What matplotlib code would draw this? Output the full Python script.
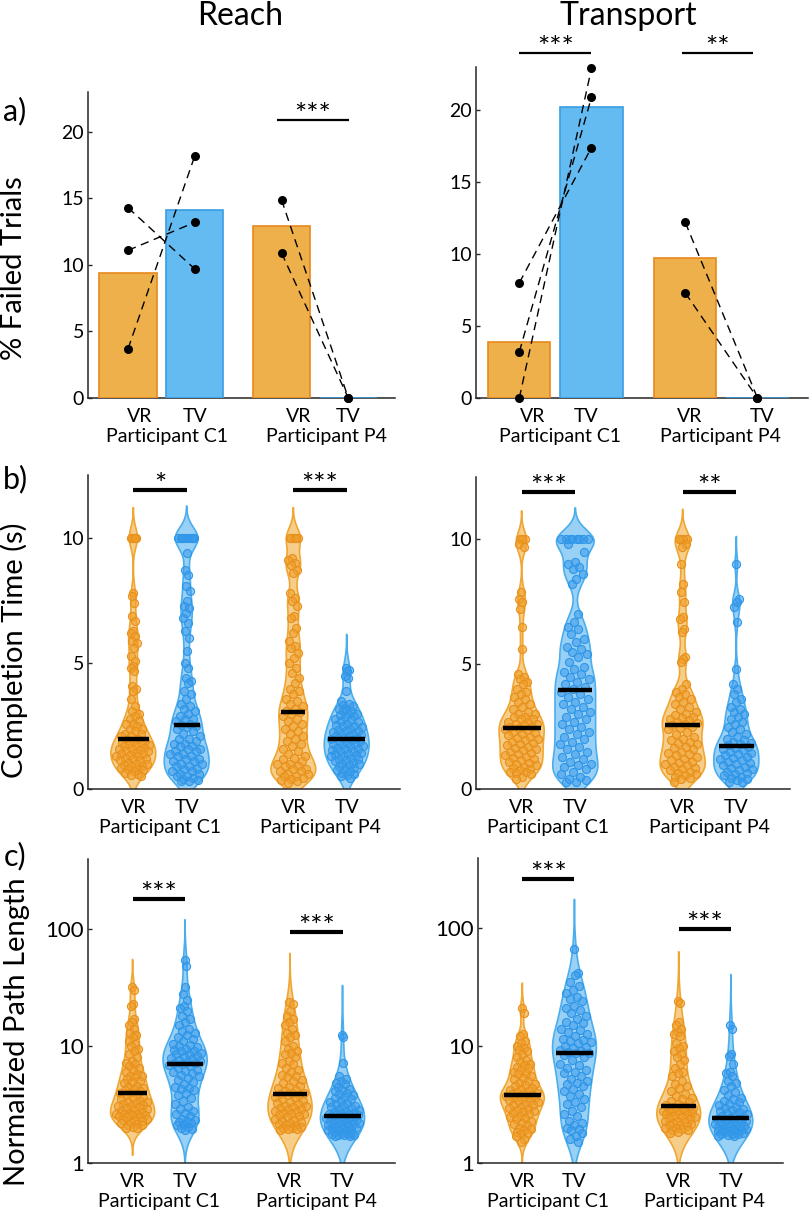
import numpy as np
import matplotlib
matplotlib.use("Agg")
import matplotlib.pyplot as plt

plt.rcParams['font.family'] = ['Lato', 'DejaVu Sans']

# ---------------- data ----------------
pos_bar = [1, 2, 3.3, 4.3]
pos_vio = [1, 2, 4, 5]
conds = ["VR", "TV", "VR", "TV"]
participants = ["Participant C1", "Participant P4"]

# a) % failed trials (bar = overall, dots = sessions, paired VR->TV)
reach_fail_bar = [9.4, 14.1, 12.9, 0.0]
reach_fail_c1_vr = [14.3, 11.1, 3.7]
reach_fail_c1_tv = [9.7, 13.2, 18.2]
reach_fail_p4_vr = [14.9, 10.9]
reach_fail_p4_tv = [0.0, 0.0]

transport_fail_bar = [3.9, 20.2, 9.7, 0.0]
transport_fail_c1_vr = [8.0, 3.2, 0.0]
transport_fail_c1_tv = [17.4, 20.9, 22.9]
transport_fail_p4_vr = [12.2, 7.3]
transport_fail_p4_tv = [0.0, 0.0]

# b) completion time (s)
reach_time_c1_vr = [10.0, 10.0, 10.0, 10.0, 10.0, 7.8, 7.7, 7.4, 6.9, 6.7, 6.3, 6.2, 6.1, 5.9, 5.8,
                    5.6, 5.3, 5.1, 4.9, 4.8, 4.7, 4.1, 4.0, 3.9, 3.6, 3.3, 3.1, 3.0, 2.9, 2.8, 2.7,
                    2.6, 2.6, 2.5, 2.4, 2.4, 2.3, 2.2, 2.2, 2.1, 2.1, 2.0, 1.95, 1.9, 1.9, 1.85, 1.8,
                    1.8, 1.75, 1.7, 1.7, 1.65, 1.6, 1.6, 1.55, 1.5, 1.5, 1.45, 1.4, 1.4, 1.35, 1.3,
                    1.3, 1.25, 1.2, 1.2, 1.15, 1.1, 1.05, 1.0, 1.0, 0.95, 0.9, 0.9, 0.85, 0.8, 0.8,
                    0.75, 0.7, 0.65, 0.6, 0.55, 0.5]
reach_time_c1_tv = [10.0, 10.0, 10.0, 10.0, 10.0, 10.0, 10.0, 10.0, 10.0, 10.0, 9.4, 8.7, 8.5, 8.1,
                    7.9, 7.5, 7.3, 7.2, 7.0, 6.8, 6.6, 6.3, 6.0, 5.5, 5.0, 4.8, 4.4, 4.3, 4.2, 3.9,
                    3.8, 3.6, 3.4, 3.3, 3.2, 3.1, 3.0, 2.9, 2.8, 2.8, 2.7, 2.6, 2.55, 2.5, 2.45, 2.4,
                    2.3, 2.2, 2.1, 2.0, 2.0, 1.9, 1.8, 1.8, 1.7, 1.7, 1.6, 1.6, 1.5, 1.5, 1.4, 1.4,
                    1.3, 1.3, 1.2, 1.2, 1.1, 1.1, 1.0, 1.0, 0.9, 0.9, 0.8, 0.8, 0.7, 0.7, 0.6, 0.6,
                    0.5, 0.5, 0.45, 0.4, 0.35, 0.3, 0.3]
reach_time_p4_vr = [10.0, 10.0, 10.0, 10.0, 10.0, 9.2, 9.1, 9.0, 8.9, 8.7, 8.6, 7.8, 7.6, 7.5, 7.3,
                    6.9, 6.8, 6.4, 6.2, 5.9, 5.7, 5.6, 5.4, 5.2, 5.0, 4.8, 4.6, 4.4, 4.2, 4.0, 3.9,
                    3.8, 3.6, 3.5, 3.4, 3.3, 3.2, 3.1, 3.05, 3.0, 2.9, 2.8, 2.7, 2.6, 2.5, 2.4, 2.3,
                    2.2, 2.1, 2.0, 1.9, 1.8, 1.7, 1.6, 1.5, 1.4, 1.3, 1.25, 1.2, 1.1, 1.0, 1.0, 0.9,
                    0.9, 0.8, 0.8, 0.7, 0.7, 0.6, 0.6, 0.5, 0.5, 0.45, 0.4, 0.35, 0.3, 0.25]
reach_time_p4_tv = [4.8, 4.75, 4.7, 4.5, 4.4, 3.9, 3.5, 3.4, 3.35, 3.3, 3.2, 3.2, 3.1, 3.1, 3.0, 3.0,
                    2.95, 2.9, 2.85, 2.8, 2.75, 2.7, 2.65, 2.6, 2.55, 2.5, 2.5, 2.45, 2.4, 2.35, 2.3,
                    2.3, 2.25, 2.2, 2.2, 2.15, 2.1, 2.1, 2.05, 2.05, 2.0, 1.95, 1.9, 1.9, 1.85, 1.8,
                    1.8, 1.75, 1.7, 1.7, 1.65, 1.6, 1.6, 1.55, 1.5, 1.5, 1.45, 1.4, 1.4, 1.35, 1.3,
                    1.3, 1.25, 1.2, 1.2, 1.15, 1.1, 1.05, 1.0, 1.0, 0.95, 0.9, 0.85, 0.8, 0.75, 0.7,
                    0.65, 0.6, 0.55, 0.5, 0.45]

transport_time_c1_vr = [10.0, 10.0, 10.0, 9.8, 9.7, 7.9, 7.6, 7.5, 7.2, 6.5, 5.6, 4.6, 4.5, 4.4, 4.3,
                        4.2, 4.0, 3.9, 3.8, 3.7, 3.6, 3.5, 3.4, 3.3, 3.2, 3.1, 3.0, 3.0, 2.9, 2.9, 2.8,
                        2.8, 2.7, 2.7, 2.6, 2.6, 2.55, 2.5, 2.5, 2.45, 2.4, 2.35, 2.3, 2.25, 2.2, 2.15,
                        2.1, 2.05, 2.0, 1.95, 1.9, 1.85, 1.8, 1.75, 1.7, 1.65, 1.6, 1.55, 1.5, 1.45,
                        1.4, 1.35, 1.3, 1.25, 1.2, 1.15, 1.1, 1.05, 1.0, 0.95, 0.9, 0.85, 0.8, 0.75,
                        0.7, 0.7, 0.65, 0.6, 0.5, 0.4]
transport_time_c1_tv = [10.0, 10.0, 10.0, 10.0, 10.0, 10.0, 10.0, 10.0, 9.8, 9.5, 9.1, 9.0, 8.9, 8.8,
                        8.6, 8.4, 8.2, 7.0, 6.7, 6.5, 6.4, 6.2, 6.0, 5.9, 5.7, 5.6, 5.5, 5.4, 5.3, 5.1,
                        4.9, 4.8, 4.7, 4.6, 4.5, 4.4, 4.3, 4.2, 4.1, 4.0, 3.9, 3.8, 3.7, 3.6, 3.5, 3.4,
                        3.3, 3.2, 3.1, 3.0, 2.9, 2.8, 2.7, 2.6, 2.5, 2.4, 2.3, 2.2, 2.1, 2.0, 1.9, 1.8,
                        1.7, 1.6, 1.5, 1.4, 1.3, 1.2, 1.1, 1.0, 0.95, 0.9, 0.8, 0.7, 0.6, 0.5, 0.4,
                        0.35, 0.3, 0.3]
transport_time_p4_vr = [10.0, 10.0, 10.0, 10.0, 9.8, 9.7, 9.0, 8.2, 7.9, 7.5, 6.9, 6.8, 6.4, 6.3, 5.3,
                        5.2, 5.1, 4.2, 4.0, 3.9, 3.8, 3.7, 3.6, 3.5, 3.4, 3.3, 3.2, 3.1, 3.0, 2.95,
                        2.9, 2.85, 2.8, 2.75, 2.7, 2.65, 2.6, 2.55, 2.5, 2.45, 2.4, 2.3, 2.2, 2.1, 2.0,
                        1.95, 1.9, 1.85, 1.8, 1.7, 1.65, 1.6, 1.5, 1.45, 1.4, 1.35, 1.3, 1.2, 1.15,
                        1.1, 1.05, 1.0, 0.95, 0.9, 0.85, 0.8, 0.75, 0.7, 0.65, 0.6, 0.55, 0.5, 0.45,
                        0.4, 0.3]
transport_time_p4_tv = [9.0, 7.6, 7.5, 7.3, 6.7, 4.8, 4.2, 4.0, 3.8, 3.6, 3.5, 3.3, 3.2, 3.1, 3.0, 2.9,
                        2.8, 2.7, 2.6, 2.5, 2.4, 2.3, 2.2, 2.1, 2.0, 1.95, 1.9, 1.85, 1.8, 1.75, 1.68,
                        1.65, 1.6, 1.55, 1.5, 1.45, 1.4, 1.35, 1.3, 1.25, 1.2, 1.15, 1.1, 1.05, 1.0,
                        0.95, 0.9, 0.85, 0.8, 0.75, 0.7, 0.65, 0.6, 0.55, 0.5, 0.45, 0.4, 0.35, 0.3, 0.3]

# c) normalized path length
reach_path_c1_vr = [32, 30, 23, 22, 17, 16, 15, 14, 13, 12.5, 12, 11, 10.5, 10, 9.5, 9, 8.5, 8, 7.5,
                    7.2, 7, 6.8, 6.5, 6.2, 6, 5.8, 5.6, 5.5, 5.4, 5.2, 5.0, 4.9, 4.8, 4.6, 4.5, 4.4,
                    4.3, 4.2, 4.1, 4.0, 3.96, 3.9, 3.8, 3.7, 3.6, 3.5, 3.4, 3.35, 3.3, 3.25, 3.2, 3.15,
                    3.1, 3.05, 3.0, 2.95, 2.9, 2.85, 2.8, 2.75, 2.7, 2.65, 2.65, 2.6, 2.55, 2.55, 2.5,
                    2.45, 2.45, 2.4, 2.35, 2.35, 2.3, 2.25, 2.2, 2.15, 2.1, 2.1, 2.05, 2.0, 2.0]
reach_path_c1_tv = [55, 48, 32, 28, 25, 22, 21, 20, 18, 17, 16, 15, 14, 13.5, 13, 12.5, 12, 11.5, 11,
                    10.5, 10.2, 10, 9.8, 9.5, 9.2, 9.0, 9.0, 8.8, 8.6, 8.5, 8.2, 8.0, 7.9, 7.8, 7.6,
                    7.4, 7.3, 7.2, 7.1, 7.0, 6.9, 6.7, 6.5, 6.3, 6.1, 6.0, 5.9, 5.7, 5.5, 5.3, 5.1,
                    4.9, 4.7, 4.5, 4.4, 4.3, 4.2, 4.0, 3.8, 3.6, 3.4, 3.2, 3.0, 2.9, 2.8, 2.7, 2.6,
                    2.5, 2.4, 2.35, 2.3, 2.25, 2.2, 2.15, 2.1, 2.05, 2.0, 1.95, 1.9]
reach_path_p4_vr = [24, 23, 20, 18, 17, 16, 15, 14, 13, 12.5, 12, 11, 10, 9.5, 9, 8.8, 8.5, 8, 7.5,
                    7.2, 7, 6.5, 6.2, 6, 5.7, 5.5, 5.4, 5.1, 5.0, 4.8, 4.6, 4.5, 4.4, 4.2, 4.1, 4.0,
                    3.95, 3.9, 3.85, 3.8, 3.7, 3.6, 3.5, 3.4, 3.3, 3.25, 3.2, 3.1, 3.05, 3.0, 2.95,
                    2.9, 2.85, 2.8, 2.75, 2.7, 2.65, 2.6, 2.55, 2.5, 2.45, 2.4, 2.35, 2.3, 2.25, 2.2,
                    2.15, 2.1, 2.1, 2.05, 2.0, 2.0, 1.95, 1.95, 1.9]
reach_path_p4_tv = [12.5, 12, 7.2, 5.5, 5.2, 5.0, 4.8, 4.7, 4.5, 4.3, 4.2, 4.1, 4.0, 3.9, 3.8, 3.7,
                    3.6, 3.5, 3.4, 3.3, 3.25, 3.2, 3.1, 3.05, 3.0, 2.95, 2.9, 2.85, 2.8, 2.75, 2.7,
                    2.7, 2.65, 2.6, 2.6, 2.58, 2.54, 2.5, 2.48, 2.45, 2.42, 2.4, 2.37, 2.35, 2.32,
                    2.3, 2.28, 2.25, 2.22, 2.2, 2.18, 2.15, 2.12, 2.1, 2.08, 2.05, 2.0, 1.98, 1.95,
                    1.92, 1.92, 1.9, 1.88, 1.85, 1.82, 1.8, 1.78, 1.78, 1.75, 1.72, 1.72, 1.7, 1.7]

transport_path_c1_vr = [21, 19, 12.5, 12, 11, 10.5, 10, 9.5, 9.2, 9, 8.5, 8, 7.5, 7.2, 7, 6.8, 6.6, 6.5,
                        6.2, 6.0, 5.8, 5.7, 5.5, 5.3, 5.2, 5.0, 4.8, 4.7, 4.6, 4.5, 4.4, 4.3, 4.2, 4.1,
                        4.0, 3.95, 3.9, 3.85, 3.79, 3.75, 3.7, 3.65, 3.6, 3.55, 3.5, 3.45, 3.4, 3.35,
                        3.3, 3.2, 3.15, 3.1, 3.0, 2.95, 2.9, 2.85, 2.8, 2.7, 2.65, 2.6, 2.5, 2.45,
                        2.4, 2.35, 2.3, 2.2, 2.15, 2.1, 2.0, 1.95, 1.9, 1.85, 1.8, 1.75, 1.7, 1.6, 1.5]
transport_path_c1_tv = [67, 42, 40, 35, 32, 30, 28, 26, 25, 24, 22, 21, 20, 19, 18, 17, 16, 15.5, 15,
                        14, 13.5, 13, 12.5, 12, 11.5, 11.2, 11, 10.8, 10.5, 10, 9.8, 9.5, 9.2, 9.0,
                        8.8, 8.7, 8.6, 8.4, 8.0, 7.5, 7.0, 6.8, 6.5, 6.2, 6.0, 5.8, 5.5, 5.2, 5.0,
                        4.8, 4.7, 4.5, 4.3, 4.1, 3.9, 3.7, 3.5, 3.3, 3.2, 3.0, 2.8, 2.6, 2.5, 2.3,
                        2.2, 2.1, 2.0, 1.95, 1.9, 1.8, 1.7, 1.6, 1.5]
transport_path_p4_vr = [24, 23, 16, 15, 14, 13, 12.5, 12, 10.5, 10, 9.5, 9, 8.5, 8, 7.5, 7, 6.5, 6,
                        5.8, 5.5, 5, 4.7, 4.5, 4.4, 4.1, 3.9, 3.7, 3.6, 3.5, 3.4, 3.3, 3.2, 3.1, 3.05,
                        3.0, 2.95, 2.95, 2.9, 2.85, 2.8, 2.75, 2.75, 2.7, 2.65, 2.6, 2.6, 2.55, 2.5,
                        2.45, 2.45, 2.4, 2.35, 2.3, 2.3, 2.25, 2.2, 2.15, 2.1, 2.1, 2.05, 2.0, 2.0,
                        1.95, 1.9, 1.9, 1.85, 1.8]
transport_path_p4_tv = [15, 14, 8.5, 8.2, 7.0, 6.0, 5.8, 5.5, 5.0, 4.8, 4.5, 4.2, 4.0, 3.8, 3.6, 3.5,
                        3.4, 3.3, 3.2, 3.1, 3.0, 2.95, 2.9, 2.85, 2.8, 2.7, 2.65, 2.6, 2.55, 2.5,
                        2.45, 2.4, 2.38, 2.35, 2.32, 2.3, 2.28, 2.25, 2.22, 2.2, 2.15, 2.12, 2.1,
                        2.08, 2.05, 2.02, 2.0, 1.98, 1.95, 1.93, 1.92, 1.9, 1.88, 1.86, 1.85, 1.82,
                        1.8, 1.78, 1.76, 1.75, 1.72, 1.7, 1.7]

# significance: (label, x0, x1, y)
reach_fail_sig = [("***", 3.23, 4.31, 20.9)]
transport_fail_sig = [("***", 1.0, 2.0, 24.0), ("**", 3.26, 4.24, 24.0)]
reach_time_sig = [("*", 1, 2, 11.9), ("***", 4, 5, 11.9)]
transport_time_sig = [("***", 1, 2, 11.9), ("**", 4, 5, 11.9)]
reach_path_sig = [("***", 1, 2, 180), ("***", 4, 5, 94)]
transport_path_sig = [("***", 1, 2, 266), ("***", 4, 5, 99)]

# kde bandwidths (linear s for b, log10 units for c)
reach_time_bw = [0.4, 0.42, 0.4, 0.45]
transport_time_bw = [0.38, 0.42, 0.4, 0.37]
reach_path_bw = [0.078, 0.113, 0.137, 0.14]
transport_path_bw = [0.07, 0.14, 0.14, 0.143]

# ---------------- style ----------------
OR_BAR, OR_EDGE = "#EDB04A", "#E8891C"
BL_BAR, BL_EDGE = "#63BBF1", "#3A9EE4"
OR_VIO, OR_VIO_E = (0.94, 0.65, 0.16, 0.55), "#F0A632"
BL_VIO, BL_VIO_E = (0.27, 0.67, 0.94, 0.55), "#4AAEEE"
OR_PT, OR_PT_E = (0.94, 0.62, 0.15, 0.6), "#E8901E"
BL_PT, BL_PT_E = (0.22, 0.60, 0.92, 0.55), "#2F97E8"
AX_C = "#262626"

W, H = 810, 1219
fig = plt.figure(figsize=(W / 100, H / 100), dpi=100)


def px_axes(x0, y0, x1, y1):
    return fig.add_axes([x0 / W, 1 - y1 / H, (x1 - x0) / W, (y1 - y0) / H])


def style(ax, xlim, ylim, ticks, tsize=14, log=False):
    for s in ["top", "right"]:
        ax.spines[s].set_visible(False)
    for s in ["left", "bottom"]:
        ax.spines[s].set_color(AX_C)
        ax.spines[s].set_linewidth(1.1)
    if log:
        ax.set_yscale("log")
        ax.minorticks_off()
    ax.set_xlim(*xlim)
    ax.set_ylim(*ylim)
    ax.set_yticks(ticks)
    ax.set_yticklabels([str(t) for t in ticks])
    ax.set_xticks([])
    ax.tick_params(axis="y", direction="in", length=3, width=1, color=AX_C,
                   labelsize=tsize, pad=3)


def xlabels(ax, cond_x, part_x):
    for c, x in zip(conds, cond_x):
        ax.annotate(c, xy=(x, 0), xycoords=("data", "axes fraction"), xytext=(0, -13),
                    textcoords="offset points", ha="center", va="center", fontsize=14)
    for p, x in zip(participants, part_x):
        ax.annotate(p, xy=(x, 0), xycoords=("data", "axes fraction"), xytext=(0, -28),
                    textcoords="offset points", ha="center", va="center", fontsize=14)


def sig(ax, items, lw):
    for lab, x0, x1, y in items:
        ax.plot([x0, x1], [y, y], color="k", lw=lw, solid_capstyle="butt", clip_on=False)
        ax.annotate(lab, xy=((x0 + x1) / 2, y), xytext=(0, -3), textcoords="offset points",
                    ha="center", va="baseline", fontsize=21, annotation_clip=False)


def bars(ax, heights, pairs):
    cols = [(OR_BAR, OR_EDGE), (BL_BAR, BL_EDGE)] * 2
    for x, h, (fc, ec) in zip(pos_bar, heights, cols):
        ax.bar(x, h, width=0.86, color=fc, edgecolor=ec, linewidth=1.2, zorder=3)
    for (x0, x1), (va, vb) in pairs:
        for a, b in zip(va, vb):
            ax.plot([x0, x1], [a, b], color="k", lw=1.0, dashes=(6, 4), zorder=4, clip_on=False)
        ax.scatter([x0] * len(va) + [x1] * len(vb), list(va) + list(vb), s=30, color="k",
                   zorder=5, clip_on=False)


def violin(ax, vals, pos, bw, fc, ec, pfc, pec, log=False):
    vals = np.asarray(vals, float)
    v = np.log10(vals) if log else vals
    n = len(v)
    grid = np.linspace(v.min() - 3 * bw, v.max() + 3 * bw, 400)
    dens = np.exp(-0.5 * ((grid[:, None] - v[None, :]) / bw) ** 2).sum(axis=1)
    half = dens / dens.max() * 0.42
    yy = 10 ** grid if log else grid
    xs = np.concatenate([pos - half, (pos + half)[::-1]])
    ys = np.concatenate([yy, yy[::-1]])
    ax.fill(xs, ys, facecolor=fc, edgecolor=ec, linewidth=1.2, zorder=2)
    w = np.interp(v, grid, half)
    u = ((np.arange(n) * 0.6180339887 + 0.31) % 1) * 2 - 1
    ax.scatter(pos + u * 0.78 * w, vals, s=34, facecolor=pfc, edgecolor=pec, linewidth=0.8, zorder=3)
    med = np.median(vals)
    mw = np.interp(np.log10(med) if log else med, grid, half) * 0.85
    ax.plot([pos - mw, pos + mw], [med, med], color="k", lw=3.2, solid_capstyle="butt", zorder=4)


def violins(ax, data, bws, log=False):
    cols = [(OR_VIO, OR_VIO_E, OR_PT, OR_PT_E), (BL_VIO, BL_VIO_E, BL_PT, BL_PT_E)] * 2
    for vals, x, bw, c in zip(data, pos_vio, bws, cols):
        violin(ax, vals, x, bw, *c, log=log)


# ---------------- a) ----------------
ax = px_axes(88, 92, 395, 398)
style(ax, (0.4, 5.0), (0, 23), [0, 5, 10, 15, 20])
bars(ax, reach_fail_bar, [((1, 2), (reach_fail_c1_vr, reach_fail_c1_tv)),
                          ((3.3, 4.3), (reach_fail_p4_vr, reach_fail_p4_tv))])
sig(ax, reach_fail_sig, 1.6)
xlabels(ax, [1.18, 2.0, 3.55, 4.3], [1.59, 3.97])

ax = px_axes(476, 67, 808, 398)
style(ax, (0.4, 5.0), (0, 23), [0, 5, 10, 15, 20])
bars(ax, transport_fail_bar, [((1, 2), (transport_fail_c1_vr, transport_fail_c1_tv)),
                              ((3.3, 4.3), (transport_fail_p4_vr, transport_fail_p4_tv))])
sig(ax, transport_fail_sig, 1.6)
xlabels(ax, [1.18, 1.93, 3.36, 4.36], [1.57, 3.78])

# ---------------- b) ----------------
ax = px_axes(88, 475, 400, 789)
style(ax, (0.15, 6.0), (0, 12.5), [0, 5, 10])
violins(ax, [reach_time_c1_vr, reach_time_c1_tv, reach_time_p4_vr, reach_time_p4_tv], reach_time_bw)
sig(ax, reach_time_sig, 3)
xlabels(ax, pos_vio, [1.5, 4.5])

ax = px_axes(476, 477, 790, 789)
style(ax, (0.15, 6.0), (0, 12.5), [0, 5, 10])
violins(ax, [transport_time_c1_vr, transport_time_c1_tv, transport_time_p4_vr, transport_time_p4_tv],
        transport_time_bw)
sig(ax, transport_time_sig, 3)
xlabels(ax, pos_vio, [1.5, 4.5])

# ---------------- c) ----------------
ax = px_axes(88, 859, 395, 1163)
style(ax, (0.15, 6.0), (1, 10 ** 2.6), [1, 10, 100], tsize=16, log=True)
violins(ax, [reach_path_c1_vr, reach_path_c1_tv, reach_path_p4_vr, reach_path_p4_tv], reach_path_bw,
        log=True)
sig(ax, reach_path_sig, 3)
xlabels(ax, pos_vio, [1.5, 4.5])

ax = px_axes(478, 858, 783, 1163)
style(ax, (0.15, 6.0), (1, 10 ** 2.6), [1, 10, 100], tsize=16, log=True)
violins(ax, [transport_path_c1_vr, transport_path_c1_tv, transport_path_p4_vr, transport_path_p4_tv],
        transport_path_bw, log=True)
sig(ax, transport_path_sig, 3)
xlabels(ax, pos_vio, [1.5, 4.5])

# ---------------- text ----------------
fig.text(240 / W, 1 - 25 / H, "Reach", ha="center", va="baseline", fontsize=23)
fig.text(628 / W, 1 - 25 / H, "Transport", ha="center", va="baseline", fontsize=23)
fig.text(3 / W, 1 - 120 / H, "a)", ha="left", va="baseline", fontsize=22)
fig.text(3 / W, 1 - 488 / H, "b)", ha="left", va="baseline", fontsize=22)
fig.text(4 / W, 1 - 865 / H, "c)", ha="left", va="baseline", fontsize=22)
fig.text(14 / W, 1 - 268 / H, "% Failed Trials", rotation=90, ha="center", va="center", fontsize=21)
fig.text(14 / W, 1 - 650 / H, "Completion Time (s)", rotation=90, ha="center", va="center", fontsize=21)
fig.text(17 / W, 1 - 1032 / H, "Normalized Path Length", rotation=90, ha="center", va="center",
         fontsize=21)

fig.savefig("out.png", dpi=100)
